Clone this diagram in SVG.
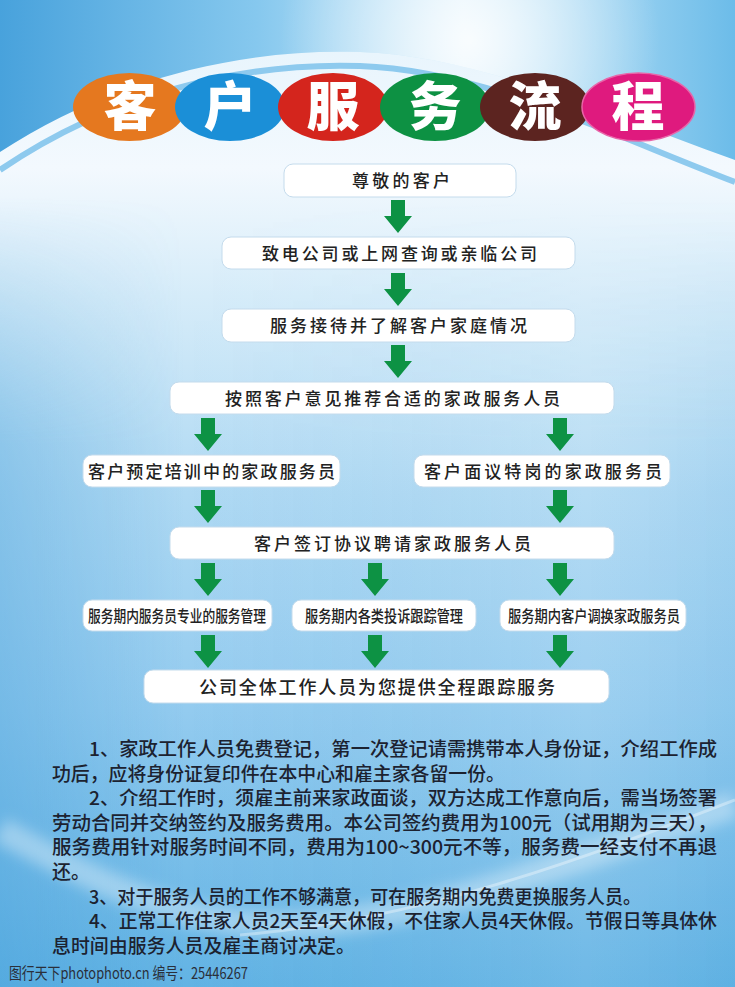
<svg xmlns="http://www.w3.org/2000/svg" width="735" height="987" viewBox="0 0 735 987">
<defs>
<style>
.box{fill:#ffffff;stroke:#c4dbec;stroke-width:1}
.t{font-family:'Noto Sans CJK SC','Noto Sans',sans-serif;font-size:17px;font-weight:500;fill:#222222}
.tc{font-family:'Noto Sans CJK SC','Noto Sans',sans-serif;font-size:16px;font-weight:500;fill:#222222}
.title{font-family:'Noto Sans CJK SC','Noto Sans',sans-serif;font-size:53px;font-weight:900;fill:#ffffff;text-anchor:middle}
.note{font-family:'Noto Sans CJK SC','Noto Sans',sans-serif;font-size:19px;font-weight:500;fill:#1c2230}
.arrow{fill:#0d9244}
</style>
<linearGradient id="bg" x1="0" y1="0" x2="0" y2="1">
<stop offset="0" stop-color="#e4f3fc"/>
<stop offset="0.17" stop-color="#f3f9fe"/>
<stop offset="0.3" stop-color="#d6ecf9"/>
<stop offset="0.5" stop-color="#afd9f3"/>
<stop offset="0.72" stop-color="#93cbef"/>
<stop offset="1" stop-color="#62b3e4"/>
</linearGradient>
<linearGradient id="side" x1="0" y1="0" x2="1" y2="0">
<stop offset="0" stop-color="#3d9bd8" stop-opacity="0.35"/>
<stop offset="0.25" stop-color="#3d9bd8" stop-opacity="0"/>
<stop offset="0.8" stop-color="#ffffff" stop-opacity="0.08"/>
<stop offset="1" stop-color="#3d9bd8" stop-opacity="0.1"/>
</linearGradient>
<linearGradient id="fadeG" x1="0" y1="0" x2="0" y2="987" gradientUnits="userSpaceOnUse">
<stop offset="0.2" stop-color="#000000"/>
<stop offset="0.45" stop-color="#ffffff"/>
</linearGradient>
<mask id="fade"><rect width="735" height="987" fill="url(#fadeG)"/></mask>
<linearGradient id="sky" x1="0" y1="0" x2="1" y2="0">
<stop offset="0" stop-color="#48a2dc"/>
<stop offset="0.35" stop-color="#86c8ee"/>
<stop offset="0.63" stop-color="#d6eefb"/>
<stop offset="1" stop-color="#6cbce9"/>
</linearGradient>
<radialGradient id="glow" cx="470" cy="40" r="190" gradientUnits="userSpaceOnUse">
<stop offset="0" stop-color="#ffffff" stop-opacity="0.85"/>
<stop offset="1" stop-color="#ffffff" stop-opacity="0"/>
</radialGradient>
<filter id="blur" x="-20%" y="-50%" width="140%" height="200%"><feGaussianBlur stdDeviation="7"/></filter>
<path id="arr" d="M-7,0H7V16H14L0,33L-14,16H-7Z"/>
</defs>

<!-- background -->
<rect width="735" height="987" fill="url(#bg)"/>
<rect width="735" height="987" fill="url(#side)" mask="url(#fade)"/>
<path d="M0,0H735V160C600,112 480,56 360,52C240,48 110,80 0,152Z" fill="url(#sky)"/>
<path d="M0,0H735V160C600,112 480,56 360,52C240,48 110,80 0,152Z" fill="url(#glow)"/>
<path d="M0,170C110,95 240,62 360,66C480,70 600,130 735,182" fill="none" stroke="#8ecaee" stroke-width="6"/>
<path d="M0,830C90,880 190,930 300,925C450,915 600,850 735,805" fill="none" stroke="#ffffff" stroke-opacity="0.35" stroke-width="26" filter="url(#blur)"/>
<path d="M240,935C420,920 580,860 735,800" fill="none" stroke="#ffffff" stroke-opacity="0.35" stroke-width="3"/>

<!-- title -->
<g id="title">
<ellipse cx="129.5" cy="107" rx="56.5" ry="34" fill="#e5781f"/>
<ellipse cx="230" cy="107" rx="55" ry="34" fill="#1b8fd7"/>
<ellipse cx="333" cy="107" rx="55" ry="34" fill="#d4251d"/>
<ellipse cx="435" cy="107" rx="55" ry="34" fill="#0d9143"/>
<ellipse cx="535" cy="107" rx="55" ry="34" fill="#5c2420"/>
<ellipse cx="638.5" cy="107" rx="56.5" ry="34" fill="#df1a7e" stroke="#e865a8" stroke-width="1.5"/>
<text class="title" x="130" y="126">客</text>
<text class="title" x="230" y="126">户</text>
<text class="title" x="333" y="126">服</text>
<text class="title" x="435" y="126">务</text>
<text class="title" x="535" y="126">流</text>
<text class="title" x="638" y="126">程</text>
</g>

<!-- connectors -->
<g id="connectors" class="arrow">
<use href="#arr" x="398" y="200"/>
<use href="#arr" x="398" y="273"/>
<use href="#arr" x="398" y="345"/>
<use href="#arr" x="208" y="418"/>
<use href="#arr" x="560" y="418"/>
<use href="#arr" x="208" y="490"/>
<use href="#arr" x="560" y="490"/>
<use href="#arr" x="208" y="563"/>
<use href="#arr" x="375" y="563"/>
<use href="#arr" x="560" y="563"/>
<use href="#arr" x="208" y="635"/>
<use href="#arr" x="375" y="635"/>
<use href="#arr" x="560" y="635"/>
</g>

<!-- nodes -->
<g id="n1"><rect class="box" x="284" y="164" width="232" height="33" rx="9"/>
<text class="t" x="352" y="187" textLength="98" lengthAdjust="spacing">尊敬的客户</text></g>
<g id="n2"><rect class="box" x="222" y="237" width="353" height="32" rx="9"/>
<text class="t" x="262" y="259.5" textLength="275" lengthAdjust="spacing">致电公司或上网查询或亲临公司</text></g>
<g id="n3"><rect class="box" x="222" y="309" width="353" height="33" rx="9"/>
<text class="t" x="270" y="332" textLength="257" lengthAdjust="spacing">服务接待并了解客户家庭情况</text></g>
<g id="n4"><rect class="box" x="170" y="382" width="444" height="32" rx="9"/>
<text class="t" x="225" y="404.5" textLength="335" lengthAdjust="spacing">按照客户意见推荐合适的家政服务人员</text></g>
<g id="n5a"><rect class="box" x="83" y="455" width="257" height="32" rx="9"/>
<text class="t" x="88" y="477.5" textLength="247" lengthAdjust="spacing">客户预定培训中的家政服务员</text></g>
<g id="n5b"><rect class="box" x="414" y="455" width="256" height="32" rx="9"/>
<text class="t" x="424" y="477.5" textLength="238" lengthAdjust="spacing">客户面议特岗的家政服务员</text></g>
<g id="n6"><rect class="box" x="170" y="527" width="444" height="32" rx="9"/>
<text class="t" x="254" y="549.5" textLength="277" lengthAdjust="spacing">客户签订协议聘请家政服务人员</text></g>
<g id="n7a"><rect class="box" x="83" y="600" width="189" height="31" rx="9"/>
<text class="tc" x="88" y="621.5" textLength="178" lengthAdjust="spacingAndGlyphs">服务期内服务员专业的服务管理</text></g>
<g id="n7b"><rect class="box" x="292" y="600" width="184" height="31" rx="9"/>
<text class="tc" x="305" y="621.5" textLength="158" lengthAdjust="spacingAndGlyphs">服务期内各类投诉跟踪管理</text></g>
<g id="n7c"><rect class="box" x="500" y="600" width="186" height="31" rx="9"/>
<text class="tc" x="508" y="621.5" textLength="172" lengthAdjust="spacingAndGlyphs">服务期内客户调换家政服务员</text></g>
<g id="n8"><rect class="box" x="144" y="670" width="465" height="33" rx="9"/>
<text class="t" x="199" y="693.5" style="font-size:18px" textLength="356" lengthAdjust="spacing">公司全体工作人员为您提供全程跟踪服务</text></g>

<!-- notes -->
<g id="notes">
<text class="note" x="89" y="756" textLength="628" lengthAdjust="spacingAndGlyphs">1、家政工作人员免费登记，第一次登记请需携带本人身份证，介绍工作成</text>
<text class="note" x="52" y="780.6" textLength="453" lengthAdjust="spacingAndGlyphs">功后，应将身份证复印件在本中心和雇主家各留一份。</text>
<text class="note" x="89" y="805.2" textLength="628" lengthAdjust="spacingAndGlyphs">2、介绍工作时，须雇主前来家政面谈，双方达成工作意向后，需当场签署</text>
<text class="note" x="52" y="829.8" textLength="665" lengthAdjust="spacingAndGlyphs">劳动合同并交纳签约及服务费用。本公司签约费用为100元（试用期为三天），</text>
<text class="note" x="52" y="854.4" textLength="665" lengthAdjust="spacingAndGlyphs">服务费用针对服务时间不同，费用为100~300元不等，服务费一经支付不再退</text>
<text class="note" x="52" y="879" textLength="38" lengthAdjust="spacingAndGlyphs">还。</text>
<text class="note" x="89" y="903.6" textLength="552" lengthAdjust="spacingAndGlyphs">3、对于服务人员的工作不够满意，可在服务期内免费更换服务人员。</text>
<text class="note" x="89" y="928.2" textLength="628" lengthAdjust="spacingAndGlyphs">4、正常工作住家人员2天至4天休假，不住家人员4天休假。节假日等具体休</text>
<text class="note" x="52" y="952.8" textLength="303" lengthAdjust="spacingAndGlyphs">息时间由服务人员及雇主商讨决定。</text>
<text x="9" y="979" textLength="239" lengthAdjust="spacingAndGlyphs" style="font-family:'Noto Sans CJK SC','Noto Sans',sans-serif;font-size:16px;fill:#2a2f3a">图行天下photophoto.cn  编号：25446267</text>
</g>
</svg>
